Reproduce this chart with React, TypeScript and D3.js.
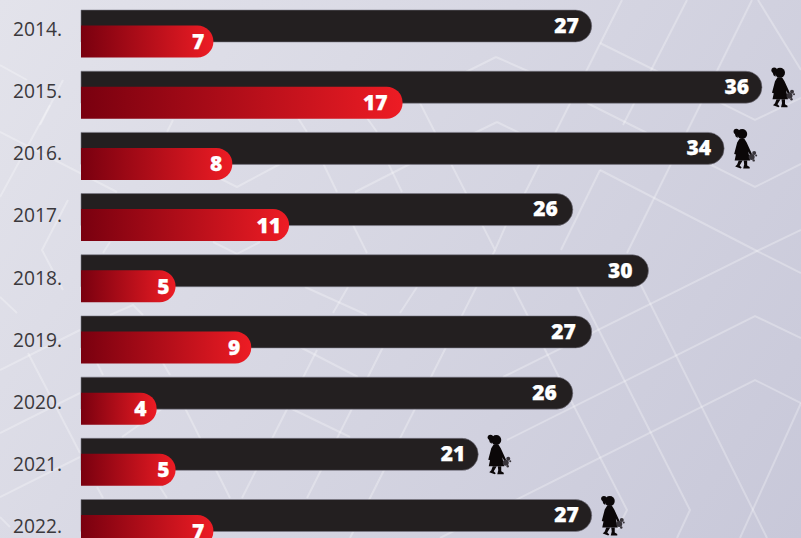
import React from 'react';
import * as d3 from 'd3';

const years = ['2014.', '2015.', '2016.', '2017.', '2018.', '2019.', '2020.', '2021.', '2022.'];
const totals = [27, 36, 34, 26, 30, 27, 26, 21, 27];
const reds = [7, 17, 8, 11, 5, 9, 4, 5, 7];
// years that get the little girl figure next to the bar
const girlYears = ['2015.', '2016.', '2021.', '2022.'];

// pale lattice in the page background
const bgLines = [
  // right side chevrons
  [[600, 43], [755, 120], [801, 98]],
  [[587, 103], [755, 187], [801, 164]],
  [[600, 170], [755, 250], [801, 273]],
  [[801, 230], [755, 252], [503, 377]],
  [[801, 338], [755, 316], [507, 440]],
  [[801, 403], [755, 380], [440, 538]],
  [[496, 57], [440, 85]],
  [[496, 57], [530, 72]],
  [[497, 122], [450, 145]],
  [[497, 122], [530, 138]],
  // steep lines, right
  [[687, 0], [623, 125]],
  [[752, 0], [627, 253]],
  [[622, 0], [523, 197]],
  [[758, 0], [801, 70]],
  [[600, 170], [561, 250]],
  [[420, 103], [495, 250], [517, 200]],
  [[640, 283], [767, 538]],
  [[577, 287], [690, 510], [677, 538]],
  [[513, 287], [627, 510], [617, 530]],
  [[801, 403], [740, 538]],
  // steep lines, middle and left
  [[383, 347], [307, 498]],
  [[317, 350], [242, 498]],
  [[495, 250], [370, 498], [350, 538]],
  [[185, 408], [230, 498]],
  [[97, 363], [103, 375]],
  [[163, 363], [170, 375]],
  [[163, 408], [122, 437]],
  [[290, 408], [350, 437]],
  [[300, 347], [358, 377]],
  [[97, 487], [103, 498]],
  [[160, 487], [167, 498]],
  [[323, 163], [337, 192]],
  [[388, 163], [402, 192]],
  [[412, 163], [355, 192]],
  [[197, 167], [237, 187], [282, 163]],
  [[213, 242], [237, 254], [260, 242]],
  [[353, 225], [367, 253]],
  [[110, 242], [103, 253]],
  [[173, 120], [167, 132]],
  [[298, 118], [307, 132]],
  [[367, 118], [377, 132]],
  [[348, 287], [333, 313]],
  [[305, 287], [367, 315]],
  [[400, 313], [417, 287]],
  [[110, 315], [133, 305], [143, 315]],
  // far left
  [[0, 132], [117, 192]],
  [[68, 200], [42, 250], [63, 290]],
  [[0, 297], [17, 313]],
  [[0, 370], [80, 330]],
  [[0, 433], [80, 393]],
  [[0, 497], [80, 457]],
  [[28, 353], [80, 453]],
  [[0, 517], [10, 527]],
  [[0, 65], [27, 80]],
  [[63, 80], [40, 125]],
  [[50, 105], [0, 197]],
];

// small per-row shifts of the value labels
const totalLabelShift = [0, 0, 0, -2, -3, -3, -3, 0, 0];
const redLabelShift = [2, -4, 1, 3, 5, 0, 1, 5, 2];

const W = 801;
const H = 538;
const barH = 32;
const redOffset = 15.5;

const x = d3.scaleLinear().domain([0, 36]).range([81, 762]);
const rowY = d3.scaleLinear().domain([0, years.length - 1]).range([10, 499.5]);
// the year labels run on a slightly wider pitch than the bars
const labelY = d3.scaleLinear().domain([0, years.length - 1]).range([36, 533]);
const bgLine = d3.line();

// bar with square left end and a round right end
function pillPath(x0: number, x1: number, y0: number, h: number) {
  const r = h / 2;
  const p = d3.path();
  p.moveTo(x0, y0);
  p.lineTo(x1 - r, y0);
  p.arc(x1 - r, y0 + r, r, -Math.PI / 2, Math.PI / 2);
  p.lineTo(x0, y0 + h);
  p.closePath();
  return p.toString();
}

function Girl({ tx, ty }: { tx: number; ty: number }) {
  return (
    <g transform={`translate(${tx},${ty})`}>
      <g fill="#0b0708">
        <circle cx={9} cy={5.6} r={5} />
        <ellipse cx={3.2} cy={3} rx={2.8} ry={2.6} />
        <path d="M1,3 L5,5 L4.5,9.5 L2.5,8 Z" />
        <path d="M6.5,10 L11,10 L13.5,14 L19,26 L17.5,27.5 L15,23 L17,32 L1.5,32 L3.8,21 L2.8,26 L1,25.5 L4,14 Z" />
        <path d="M5.5,32 L9.5,32 L6.5,37 L8.5,39 L7.5,40 L2,38 L4,36 Z" />
        <path d="M10.5,32 L14,32 L14,37 L16.5,38.5 L16.5,40 L10,40 L11,36 Z" />
      </g>
      <g fill="#38343a">
        <circle cx={18.5} cy={28.5} r={3} />
        <circle cx={21} cy={24.5} r={2} />
        <circle cx={23} cy={27} r={1} />
        <circle cx={20.5} cy={32} r={1.2} />
      </g>
    </g>
  );
}

export default function App() {
  return (
    <svg width={W} height={H} style={{ position: 'fixed', left: 0, top: 0, display: 'block' }}>
      <defs>
        <linearGradient id="bg" gradientUnits="userSpaceOnUse" x1={0} y1={0} x2={W} y2={H}>
          <stop offset="0" stopColor="#e3e3eb" />
          <stop offset="1" stopColor="#c8c8d9" />
        </linearGradient>
        <linearGradient id="redFill">
          <stop offset="0" stopColor="#79000f" />
          <stop offset="1" stopColor="#ed1c24" />
        </linearGradient>
      </defs>
      <rect width={W} height={H} fill="url(#bg)" />
      <g fill="none" stroke="#ffffff" strokeOpacity={0.28} strokeWidth={2}>
        {bgLines.map((l, i) => (
          <path key={i} d={bgLine(l as [number, number][]) as string} />
        ))}
      </g>
      {years.map((year, i) => {
        const top = rowY(i);
        return (
          <g key={year}>
            <text
              x={13}
              y={labelY(i)}
              fontFamily="'Open Sans'"
              fontSize={19.2}
              fill="#3a383c"
            >
              {year}
            </text>
            <path
              d={pillPath(x(0), x(totals[i]), top, barH)}
              fill="#231f20"
              stroke="#7d7b88"
              strokeOpacity={0.55}
              strokeWidth={1}
            />
            <text
              x={x(totals[i]) - 13 + totalLabelShift[i]}
              y={top + 22.8}
              textAnchor="end"
              fontFamily="'Open Sans'"
              fontWeight={800}
              fontSize={21}
              fill="#fff"
              stroke="#fff"
              strokeWidth={0.25}
            >
              {totals[i]}
            </text>
            <path
              d={pillPath(x(0), x(reds[i]), top + redOffset, barH)}
              fill="url(#redFill)"
            />
            <text
              x={x(reds[i]) - 11 + redLabelShift[i]}
              y={top + redOffset + 23.5}
              textAnchor="end"
              fontFamily="'Open Sans'"
              fontWeight={800}
              fontSize={21}
              fill="#fff"
              stroke="#fff"
              strokeWidth={0.25}
            >
              {reds[i]}
            </text>
            {girlYears.includes(year) && <Girl tx={x(totals[i]) + 9} ty={top - 4} />}
          </g>
        );
      })}
    </svg>
  );
}
